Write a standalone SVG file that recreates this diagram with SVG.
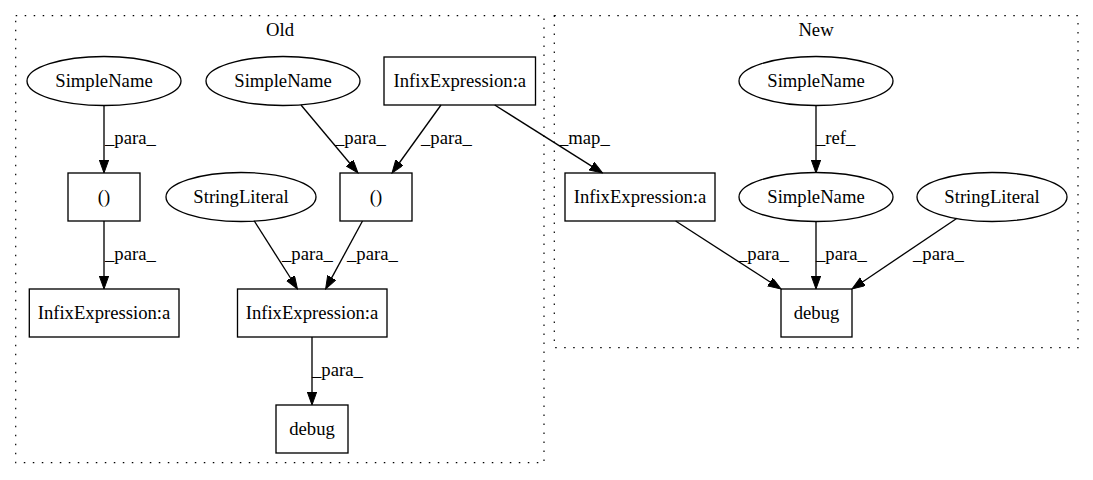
<svg xmlns="http://www.w3.org/2000/svg" width="1093" height="480" viewBox="0 0 1093 480">
<style>
text{font-family:"Liberation Serif","Times New Roman",serif;font-size:18.67px;fill:#000}
.n{text-anchor:middle}
.shape{fill:none;stroke:#000;stroke-width:1.33}
.cl{fill:none;stroke:#000;stroke-width:1.2;stroke-dasharray:1.5,7.5}
.e{fill:none;stroke:#000;stroke-width:1.33}
</style>
<defs>
<marker id="ah" markerUnits="userSpaceOnUse" markerWidth="14" markerHeight="10" refX="0" refY="4.67" orient="auto">
<path d="M0,0 L13,4.67 L0,9.33 z" fill="#000" stroke="#000" stroke-width="1"/>
</marker>
</defs>
<rect width="1093" height="480" fill="#fff"/>
<g id="cluster_old">
<rect class="cl" x="15.7" y="15.7" width="528.3" height="447"/>
<text class="n" x="280" y="36">Old</text>
</g>
<g id="cluster_new">
<rect class="cl" x="554.3" y="15.7" width="523.7" height="332"/>
<text class="n" x="816" y="36">New</text>
</g>
<g id="connectors">
<line class="e" x1="104" y1="105" x2="104" y2="160" marker-end="url(#ah)"/>
<text x="105" y="144">_para_</text>
<line class="e" x1="301" y1="105" x2="349.6" y2="163" marker-end="url(#ah)"/>
<text x="335" y="144">_para_</text>
<line class="e" x1="441" y1="105" x2="399.6" y2="162.5" marker-end="url(#ah)"/>
<text x="421" y="144">_para_</text>
<line class="e" x1="494.7" y1="105" x2="591.6" y2="166.1" marker-end="url(#ah)"/>
<text x="559" y="144">_map_</text>
<line class="e" x1="104" y1="221" x2="104" y2="276" marker-end="url(#ah)"/>
<text x="105" y="260">_para_</text>
<line class="e" x1="254" y1="220.5" x2="290.5" y2="278" marker-end="url(#ah)"/>
<text x="282" y="260">_para_</text>
<line class="e" x1="362.5" y1="221" x2="331.8" y2="277.6" marker-end="url(#ah)"/>
<text x="347" y="260">_para_</text>
<line class="e" x1="312" y1="337" x2="312" y2="392" marker-end="url(#ah)"/>
<text x="312" y="376">_para_</text>
<line class="e" x1="816" y1="105" x2="816" y2="160" marker-end="url(#ah)"/>
<text x="816" y="144">_ref_</text>
<line class="e" x1="675.6" y1="221" x2="770.1" y2="282" marker-end="url(#ah)"/>
<text x="738" y="260">_para_</text>
<line class="e" x1="816" y1="221" x2="816" y2="276" marker-end="url(#ah)"/>
<text x="816" y="260">_para_</text>
<line class="e" x1="957" y1="218.2" x2="862.8" y2="281.7" marker-end="url(#ah)"/>
<text x="913" y="260">_para_</text>
</g>
<g id="old_simplename_1"><ellipse class="shape" cx="104" cy="81" rx="77" ry="24.5"/><text class="n" x="104" y="87">SimpleName</text></g>
<g id="old_simplename_2"><ellipse class="shape" cx="283" cy="81" rx="77" ry="24.5"/><text class="n" x="283" y="87">SimpleName</text></g>
<g id="old_infix_top"><rect class="shape" x="384" y="57" width="151.5" height="48"/><text class="n" x="459.8" y="87">InfixExpression:a</text></g>
<g id="old_paren_left"><rect class="shape" x="68" y="173" width="72" height="48"/><text class="n" x="104" y="203">()</text></g>
<g id="old_stringliteral"><ellipse class="shape" cx="241" cy="197" rx="75" ry="24.5"/><text class="n" x="241" y="203">StringLiteral</text></g>
<g id="old_paren_mid"><rect class="shape" x="340" y="173" width="72" height="48"/><text class="n" x="376" y="203">()</text></g>
<g id="old_infix_left"><rect class="shape" x="29.3" y="289" width="149.7" height="48"/><text class="n" x="104" y="319">InfixExpression:a</text></g>
<g id="old_infix_mid"><rect class="shape" x="237.5" y="289" width="149.5" height="48"/><text class="n" x="312" y="319">InfixExpression:a</text></g>
<g id="old_debug"><rect class="shape" x="276" y="405" width="72" height="48"/><text class="n" x="312" y="435">debug</text></g>
<g id="new_simplename_top"><ellipse class="shape" cx="816" cy="81" rx="77" ry="24.5"/><text class="n" x="816" y="87">SimpleName</text></g>
<g id="new_infix"><rect class="shape" x="565" y="173" width="150" height="48"/><text class="n" x="640" y="203">InfixExpression:a</text></g>
<g id="new_simplename_mid"><ellipse class="shape" cx="816" cy="197" rx="77" ry="24.5"/><text class="n" x="816" y="203">SimpleName</text></g>
<g id="new_stringliteral"><ellipse class="shape" cx="992" cy="197" rx="75" ry="24.5"/><text class="n" x="992" y="203">StringLiteral</text></g>
<g id="new_debug"><rect class="shape" x="781" y="289" width="71" height="48"/><text class="n" x="816.5" y="319">debug</text></g>
</svg>
